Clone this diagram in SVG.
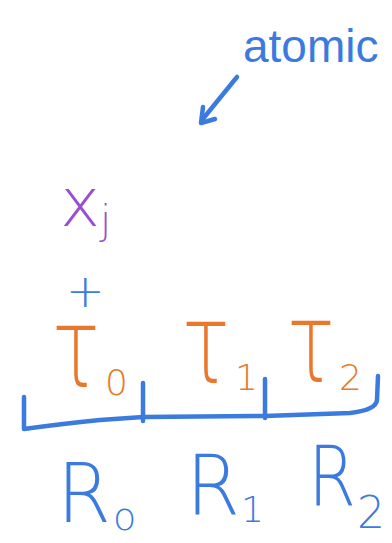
<svg xmlns="http://www.w3.org/2000/svg" width="392" height="543" viewBox="0 0 392 543">
<style>
.b{fill:#3b7be0}.o{fill:#e8782c}.p{fill:#9a4fd0}
text{font-family:"Liberation Sans","DejaVu Sans",sans-serif}
.lt{font-family:"DejaVu Sans","Liberation Sans",sans-serif;font-weight:200}
.ln{fill:none;stroke:#3b7be0;stroke-width:4.5;stroke-linecap:round;stroke-linejoin:round}
</style>
<rect width="392" height="543" fill="#ffffff"/>
<g id="atomic"><text class="b" x="243" y="62" font-size="46">atomic</text></g>
<g id="connectors">
<path class="ln" d="M237,77 L202,120"/>
<path class="ln" d="M203,107 L201,123 L215,119"/>
</g>
<g id="xj"><text class="p lt" x="60" y="226" font-size="68">x</text><text class="p lt" x="100" y="234" font-size="40">j</text></g>
<g id="plus"><text class="b lt" x="66" y="307" font-size="46">+</text></g>
<g id="tau0"><text class="o lt" x="52" y="387" font-size="112" textLength="48" lengthAdjust="spacingAndGlyphs">τ</text><text class="o lt" x="105" y="395" font-size="36">0</text></g>
<g id="tau1"><text class="o lt" x="182" y="383" font-size="112" textLength="48" lengthAdjust="spacingAndGlyphs">τ</text><text class="o lt" x="235" y="390" font-size="36">1</text></g>
<g id="tau2"><text class="o lt" x="287" y="382" font-size="112" textLength="48" lengthAdjust="spacingAndGlyphs">τ</text><text class="o lt" x="339" y="390" font-size="36">2</text></g>
<g id="bracket">
<path class="ln" d="M24,397 L24,429 Q60,424 100,420 L143,417 L265,416 L350,413 Q376,410 377,400 L378,376"/>
<path class="ln" d="M143,383 L143,421"/>
<path class="ln" d="M265,379 L265,418"/>
</g>
<g id="R0"><text class="b lt" x="57" y="522" font-size="82" textLength="54" lengthAdjust="spacingAndGlyphs">R</text><text class="b lt" x="113" y="530" font-size="38">o</text></g>
<g id="R1"><text class="b lt" x="186" y="515" font-size="84" textLength="54" lengthAdjust="spacingAndGlyphs">R</text><text class="b lt" x="241" y="522" font-size="36">1</text></g>
<g id="R2"><text class="b lt" x="308" y="506" font-size="84" textLength="48" lengthAdjust="spacingAndGlyphs">R</text><text class="b lt" x="357" y="528" font-size="44">2</text></g>
</svg>
